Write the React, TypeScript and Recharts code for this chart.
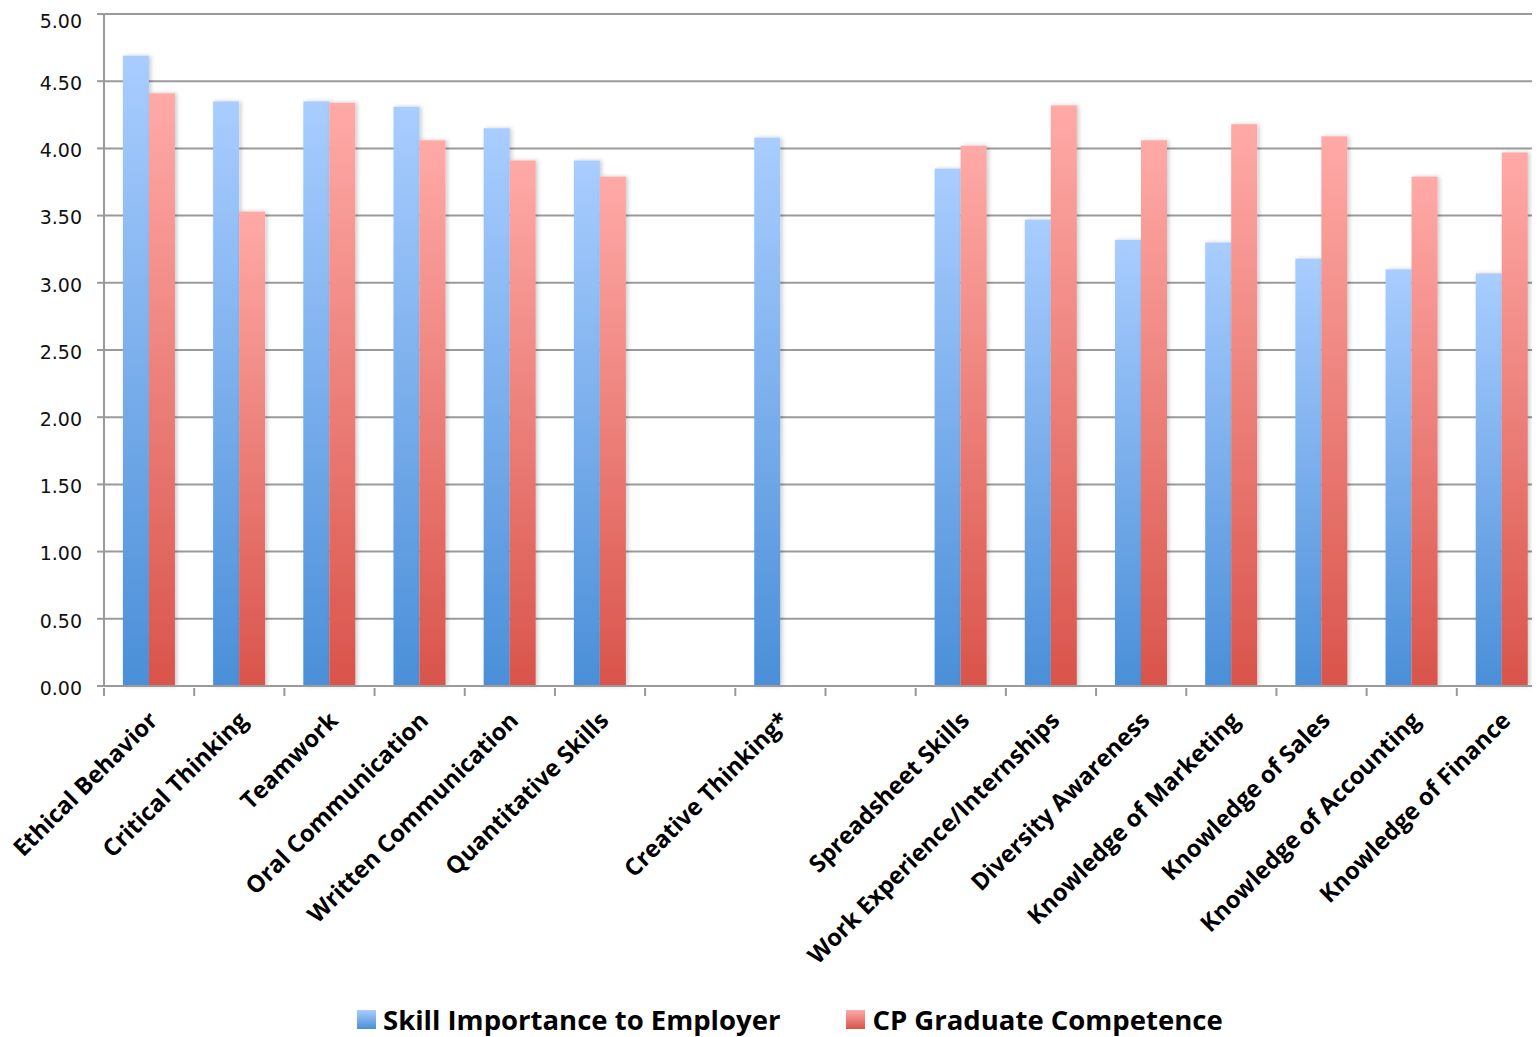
import React from "react"
import { BarChart, Bar, XAxis, YAxis, CartesianGrid, Legend } from "recharts"

const categories = [
  "Ethical Behavior",
  "Critical Thinking",
  "Teamwork",
  "Oral Communication",
  "Written Communication",
  "Quantitative Skills",
  " ",
  "Creative Thinking*",
  "  ",
  "Spreadsheet Skills",
  "Work Experience/Internships",
  "Diversity Awareness",
  "Knowledge of Marketing",
  "Knowledge of Sales",
  "Knowledge of Accounting",
  "Knowledge of Finance",
]

const importance = [4.69, 4.35, 4.35, 4.31, 4.15, 3.91, null, 4.08, null, 3.85, 3.47, 3.32, 3.3, 3.18, 3.1, 3.07]
const competence = [4.41, 3.53, 4.34, 4.06, 3.91, 3.79, null, null, null, 4.02, 4.32, 4.06, 4.18, 4.09, 3.79, 3.97]

const yTicks = [0, 0.5, 1, 1.5, 2, 2.5, 3, 3.5, 4, 4.5, 5]

const data = categories.map((name, i) => ({
  name,
  importance: importance[i],
  competence: competence[i],
}))

const LEFT = 8
const W = 1547
const H = 1029
const Y_W = 96
const BAND = (W - LEFT - Y_W) / categories.length

const XTick = (props: any) => {
  const { x, y, payload } = props
  const left = x - BAND / 2
  const ax = x + 10
  const ay = y + 34
  return (
    <g>
      <line x1={left} y1={y} x2={left} y2={y + 8} stroke="#999" strokeWidth={2} />
      <text
        x={ax}
        y={ay}
        textAnchor="end"
        transform={`rotate(-45, ${ax}, ${ay})`}
        fontFamily="Open Sans"
        fontWeight={700}
        fontSize={23.7}
        fill="#000"
      >
        {payload.value.trim()}
      </text>
    </g>
  )
}

const BarShape = (props: any) => {
  const { x, y, width, height, fill } = props
  if (!height || height <= 0) return null
  return <rect x={x} y={y} width={width} height={height} fill={fill} filter="url(#barShadow)" />
}

const LegendBox = () => (
  <div
    style={{
      display: "flex",
      justifyContent: "flex-start",
      alignItems: "center",
      boxSizing: "border-box",
      height: 44,
      paddingTop: 8,
      paddingLeft: 349,
      fontFamily: "Open Sans",
      fontWeight: 700,
      fontSize: 27.5,
      color: "#000",
      whiteSpace: "nowrap",
    }}
  >
    <span style={{ width: 19, height: 19, background: "linear-gradient(#a9cdff, #4a8fd8)", marginRight: 7 }} />
    <span style={{ marginRight: 66 }}>Skill Importance to Employer</span>
    <span style={{ width: 19, height: 19, background: "linear-gradient(#ffaaa7, #d9544b)", marginRight: 7 }} />
    <span>CP Graduate Competence</span>
  </div>
)

export default function App() {
  return (
    <div style={{ marginLeft: -8, width: 1540, height: H, overflow: "hidden" }}>
      <BarChart
        width={W}
        height={H}
        data={data}
        margin={{ top: 6, right: 0, left: LEFT, bottom: 0 }}
        barCategoryGap="21%"
        barGap={0}
      >
        <defs>
          <linearGradient id="blueGrad" x1="0" y1="0" x2="0" y2="1">
            <stop offset="0%" stopColor="#a9cdff" />
            <stop offset="100%" stopColor="#4a8fd8" />
          </linearGradient>
          <linearGradient id="redGrad" x1="0" y1="0" x2="0" y2="1">
            <stop offset="0%" stopColor="#ffaaa7" />
            <stop offset="100%" stopColor="#d9544b" />
          </linearGradient>
          <filter id="barShadow" x="-20%" y="-5%" width="150%" height="110%">
            <feDropShadow dx={2} dy={0} stdDeviation={2} floodColor="#000" floodOpacity={0.2} />
          </filter>
        </defs>
        <CartesianGrid vertical={false} stroke="#9a9a9a" strokeWidth={2} />
        <XAxis
          dataKey="name"
          interval={0}
          tickLine={false}
          tickSize={0}
          tick={<XTick />}
          height={307}
          stroke="#9a9a9a"
          strokeWidth={2}
        />
        <YAxis
          domain={[0, 5]}
          ticks={yTicks}
          tickFormatter={(v: number) => v.toFixed(2)}
          width={Y_W}
          tickSize={7}
          tickMargin={15}
          stroke="#9a9a9a"
          strokeWidth={2}
          tick={{ fill: "#111", fontSize: 19, fontFamily: "DejaVu Sans", dy: 2 }}
        />
        <Legend verticalAlign="bottom" content={<LegendBox />} />
        <Bar dataKey="importance" fill="url(#blueGrad)" shape={<BarShape />} isAnimationActive={false} />
        <Bar dataKey="competence" fill="url(#redGrad)" shape={<BarShape />} isAnimationActive={false} />
      </BarChart>
    </div>
  )
}
